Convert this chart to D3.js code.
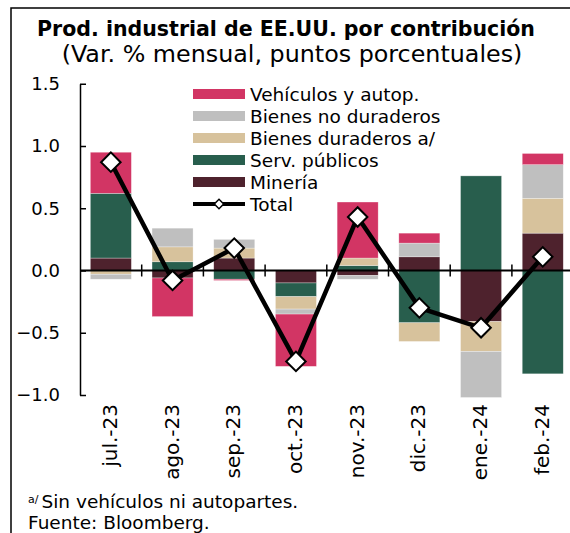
<!DOCTYPE html>
<html>
<head>
<meta charset="utf-8">
<script src="https://cdn.jsdelivr.net/npm/d3@7"></script>
<style>
  body { margin: 0; background: #fff; }
  svg text { font-family: "DejaVu Sans", sans-serif; fill: #000; }
</style>
</head>
<body>
<svg id="chart"></svg>
<script>
// values (contribución, pp)
const months = ["jul.-23", "ago.-23", "sep.-23", "oct.-23", "nov.-23", "dic.-23", "ene.-24", "feb.-24"];
const vehiculos   = [0.33, -0.31, -0.01, -0.42, 0.45, 0.08, 0.00, 0.09];
const noDuraderos = [-0.04, 0.15, 0.07, -0.04, -0.03, 0.11, -0.37, 0.27];
const duraderos   = [-0.03, 0.12, 0.08, -0.10, 0.06, -0.15, -0.24, 0.28];
const servicios   = [0.52, 0.07, -0.07, -0.11, 0.04, -0.42, 0.76, -0.83];
const mineria     = [0.10, -0.06, 0.10, -0.10, -0.04, 0.11, -0.41, 0.30];
const total       = [0.87, -0.08, 0.18, -0.73, 0.43, -0.30, -0.46, 0.11];
const yTicks = [1.5, 1.0, 0.5, 0.0, -0.5, -1.0];

const series = [
    { key: "mineria", label: "Minería", values: mineria, color: "#4E222D" },
    { key: "servicios", label: "Serv. públicos", values: servicios, color: "#285E4D" },
    { key: "duraderos", label: "Bienes duraderos a/", values: duraderos, color: "#D7C29C" },
    { key: "noDuraderos", label: "Bienes no duraderos", values: noDuraderos, color: "#BFBFBF" },
    { key: "vehiculos", label: "Vehículos y autop.", values: vehiculos, color: "#D23564" }
];

const width = 570, height = 533;
const svg = d3.select("#chart").attr("width", width).attr("height", height);

// marco
svg.append("rect")
    .attr("x", 11).attr("y", 8)
    .attr("width", 600).attr("height", 600)
    .attr("fill", "none").attr("stroke", "#000").attr("stroke-width", 1.5);

// títulos
function fit(sel, w) {
    const cur = sel.node().getComputedTextLength();
    const fs = parseFloat(sel.attr("font-size"));
    sel.attr("font-size", fs * w / cur);
}
const title = svg.append("text")
    .attr("x", 286).attr("y", 36)
    .attr("text-anchor", "middle")
    .attr("font-size", 20).attr("font-weight", "bold")
    .text("Prod. industrial de EE.UU. por contribución");
fit(title, 498);
const sub = svg.append("text")
    .attr("x", 292).attr("y", 62)
    .attr("text-anchor", "middle")
    .attr("font-size", 20)
    .text("(Var. % mensual, puntos porcentuales)");
fit(sub, 461);

const table = months.map((m, i) => {
    const row = { month: m };
    series.forEach(s => row[s.key] = s.values[i]);
    return row;
});

const x = d3.scaleBand()
    .domain(months)
    .range([80, 80 + 8 * 61.7])
    .paddingInner(0.335)
    .paddingOuter(0.1675);

const y = d3.scaleLinear()
    .domain([-1.0, 1.5])
    .range([395, 83.75]);

const stack = d3.stack()
    .keys(series.map(s => s.key))
    .offset(d3.stackOffsetDiverging);
const stacked = stack(table);

const g = svg.append("g");
g.selectAll(".layer")
    .data(stacked)
    .join("g")
    .attr("class", "layer")
    .attr("fill", (d, i) => series[i].color)
    .selectAll("rect")
    .data(d => d)
    .join("rect")
    .attr("x", d => x(d.data.month))
    .attr("width", x.bandwidth())
    .attr("y", d => y(Math.max(d[0], d[1])))
    .attr("height", d => Math.abs(y(d[0]) - y(d[1])))
    .attr("stroke", "#fff")
    .attr("stroke-opacity", 0.5)
    .attr("stroke-width", 0.6);

// eje y
const yAxis = d3.axisLeft(y)
    .tickValues(yTicks)
    .tickFormat(d3.format(".1f"))
    .tickSizeInner(-6)
    .tickSizeOuter(0)
    .tickPadding(20);
svg.append("g")
    .attr("transform", "translate(80,0)")
    .call(yAxis)
    .call(a => a.selectAll("text").attr("font-size", 18).attr("font-family", "DejaVu Sans").attr("fill", "#000"))
    .call(a => a.selectAll("line, path").attr("stroke", "#000").attr("stroke-width", 1.5));

// eje x en cero
const xAxisG = svg.append("g");
xAxisG.append("line")
    .attr("x1", 80).attr("x2", width)
    .attr("y1", y(0)).attr("y2", y(0))
    .attr("stroke", "#000").attr("stroke-width", 1.8);
xAxisG.selectAll(".xt")
    .data(months.slice(1))
    .join("line")
    .attr("class", "xt")
    .attr("x1", d => x(d) - x.step() * x.paddingInner() / 2)
    .attr("x2", d => x(d) - x.step() * x.paddingInner() / 2)
    .attr("y1", y(0) - 6).attr("y2", y(0) + 6)
    .attr("stroke", "#000").attr("stroke-width", 1.5);
svg.selectAll(".xl")
    .data(months)
    .join("text")
    .attr("class", "xl")
    .attr("transform", d => `translate(${x(d) + x.bandwidth() / 2 + 6},404) rotate(-90)`)
    .attr("text-anchor", "end")
    .attr("font-size", 20)
    .text(d => d);

// línea total
const pts = months.map((m, i) => [x(m) + x.bandwidth() / 2, y(total[i])]);
svg.append("path")
    .attr("d", d3.line()(pts))
    .attr("fill", "none")
    .attr("stroke", "#000")
    .attr("stroke-width", 4.5)
    .attr("stroke-linejoin", "round");
const diamond = d3.symbol().type(d3.symbolSquare).size(190);
svg.selectAll(".mk")
    .data(pts)
    .join("path")
    .attr("class", "mk")
    .attr("d", diamond)
    .attr("transform", d => `translate(${d[0]},${d[1]}) rotate(45)`)
    .attr("fill", "#fff")
    .attr("stroke", "#000")
    .attr("stroke-width", 2);

// leyenda
const legend = svg.append("g").attr("transform", "translate(193,89)");
const legItems = series.slice().reverse();
legItems.forEach((s, i) => {
    legend.append("rect")
        .attr("x", 0).attr("y", i * 22)
        .attr("width", 52).attr("height", 10)
        .attr("fill", s.color);
    legend.append("text")
        .attr("x", 57).attr("y", i * 22 + 12)
        .attr("font-size", 18.5)
        .text(s.label);
});
const ty = legItems.length * 22 + 5;
legend.append("line")
    .attr("x1", 0).attr("x2", 52)
    .attr("y1", ty).attr("y2", ty)
    .attr("stroke", "#000").attr("stroke-width", 4);
legend.append("path")
    .attr("d", d3.symbol().type(d3.symbolSquare).size(45))
    .attr("transform", `translate(26,${ty}) rotate(45)`)
    .attr("fill", "#fff").attr("stroke", "#000").attr("stroke-width", 1.5);
legend.append("text")
    .attr("x", 57).attr("y", ty + 7)
    .attr("font-size", 18.5)
    .text("Total");

// notas
const note = svg.append("text").attr("x", 28).attr("y", 508).attr("font-size", 18.5);
note.append("tspan").attr("font-size", 11).attr("dy", -5).text("a/");
note.append("tspan").attr("dy", 5).attr("dx", 3).text("Sin vehículos ni autopartes.");
svg.append("text").attr("x", 28).attr("y", 529).attr("font-size", 18.5).text("Fuente: Bloomberg.");
</script>
</body>
</html>
